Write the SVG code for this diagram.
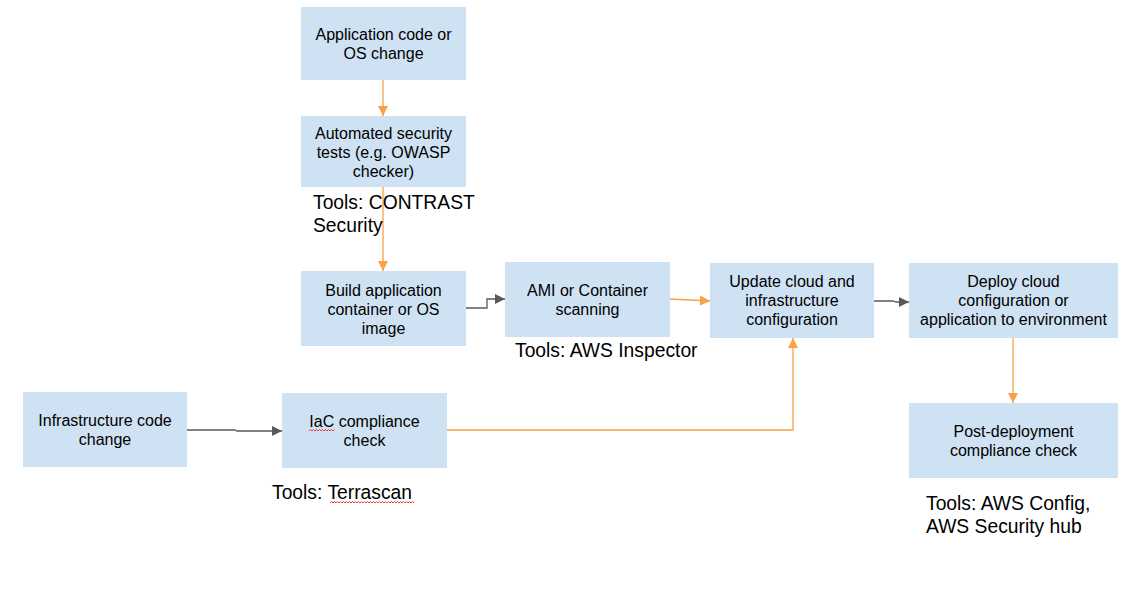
<svg xmlns="http://www.w3.org/2000/svg" width="1134" height="616" viewBox="0 0 1134 616">
<style>
.box{fill:#cfe2f3;stroke:none}
.t{font-family:"Liberation Sans",Arial,sans-serif;font-size:16px;fill:#000;text-anchor:middle}
.lbl{font-family:"Liberation Sans",Arial,sans-serif;font-size:19.3px;fill:#000}
.o{fill:none;stroke:#f6a245;stroke-width:1.3}
.g{fill:none;stroke:#595959;stroke-width:1.3}
.sq{fill:none;stroke:#e0302a;stroke-width:0.9}
</style>
<defs>
<marker id="ao" viewBox="0 0 10 10" refX="10" refY="5" markerWidth="10" markerHeight="10" markerUnits="userSpaceOnUse" orient="auto"><path d="M0,0 L10,5 L0,10 z" fill="#f6a245"/></marker>
<marker id="ag" viewBox="0 0 10 10" refX="10" refY="5" markerWidth="10" markerHeight="10" markerUnits="userSpaceOnUse" orient="auto"><path d="M0,0 L10,5 L0,10 z" fill="#595959"/></marker>
</defs>
<rect width="1134" height="616" fill="#fff"/>
<g id="connectors">
<path class="o" d="M383,80 V116" marker-end="url(#ao)"/>
<path class="o" d="M383,187 V271" marker-end="url(#ao)"/>
<path class="g" d="M466,308 H487 V299 H505" marker-end="url(#ag)"/>
<path class="o" d="M670,299 L710,301" marker-end="url(#ao)"/>
<path class="g" d="M874,301 H893 L896,302 H909" marker-end="url(#ag)"/>
<path class="o" d="M1013,338 V403" marker-end="url(#ao)"/>
<path class="g" d="M187,430 H235 L237,431 H282" marker-end="url(#ag)"/>
<path class="o" d="M447,430 H793 V338" marker-end="url(#ao)"/>
</g>
<g id="n1"><rect class="box" x="301" y="7" width="165" height="73"/>
<text class="t" x="383.5" y="40">Application code or</text><text class="t" x="383.5" y="59">OS change</text></g>
<g id="n2"><rect class="box" x="301" y="116" width="165" height="71"/>
<text class="t" x="383.5" y="139">Automated security</text><text class="t" x="383.5" y="158">tests (e.g. OWASP</text><text class="t" x="383.5" y="177">checker)</text></g>
<g id="n3"><rect class="box" x="301" y="271" width="165" height="75"/>
<text class="t" x="383.5" y="296">Build application</text><text class="t" x="383.5" y="315">container or OS</text><text class="t" x="383.5" y="334">image</text></g>
<g id="n4"><rect class="box" x="505" y="262" width="165" height="75"/>
<text class="t" x="587.5" y="296">AMI or Container</text><text class="t" x="587.5" y="315">scanning</text></g>
<g id="n5"><rect class="box" x="710" y="263" width="164" height="75"/>
<text class="t" x="792" y="287">Update cloud and</text><text class="t" x="792" y="306">infrastructure</text><text class="t" x="792" y="325">configuration</text></g>
<g id="n6"><rect class="box" x="909" y="263" width="209" height="75"/>
<text class="t" x="1013.5" y="287">Deploy cloud</text><text class="t" x="1013.5" y="306">configuration or</text><text class="t" x="1013.5" y="325">application to environment</text></g>
<g id="n7"><rect class="box" x="23" y="392" width="164" height="75"/>
<text class="t" x="105" y="426">Infrastructure code</text><text class="t" x="105" y="445">change</text></g>
<g id="n8"><rect class="box" x="282" y="393" width="165" height="75"/>
<text class="t" x="364.5" y="427">IaC compliance</text><text class="t" x="364.5" y="446">check</text>
<path class="sq" d="M309,431 l1.5,-1.5 l1.5,1.5 l1.5,-1.5 l1.5,1.5 l1.5,-1.5 l1.5,1.5 l1.5,-1.5 l1.5,1.5 l1.5,-1.5 l1.5,1.5 l1.5,-1.5 l1.5,1.5 l1.5,-1.5 l1.5,1.5 l1.5,-1.5 l1.5,1.5 l1.5,-1.5"/></g>
<g id="n9"><rect class="box" x="909" y="403" width="209" height="75"/>
<text class="t" x="1013.5" y="437">Post-deployment</text><text class="t" x="1013.5" y="456">compliance check</text></g>
<g id="labels">
<text class="lbl" x="313" y="209">Tools: CONTRAST</text><text class="lbl" x="313" y="232">Security</text>
<text class="lbl" x="515" y="357">Tools: AWS Inspector</text>
<text class="lbl" x="272" y="499">Tools: Terrascan</text>
<path class="sq" d="M330,503 l1.5,-1.5 l1.5,1.5 l1.5,-1.5 l1.5,1.5 l1.5,-1.5 l1.5,1.5 l1.5,-1.5 l1.5,1.5 l1.5,-1.5 l1.5,1.5 l1.5,-1.5 l1.5,1.5 l1.5,-1.5 l1.5,1.5 l1.5,-1.5 l1.5,1.5 l1.5,-1.5 l1.5,1.5 l1.5,-1.5 l1.5,1.5 l1.5,-1.5 l1.5,1.5 l1.5,-1.5 l1.5,1.5 l1.5,-1.5 l1.5,1.5 l1.5,-1.5 l1.5,1.5 l1.5,-1.5 l1.5,1.5 l1.5,-1.5 l1.5,1.5 l1.5,-1.5 l1.5,1.5 l1.5,-1.5 l1.5,1.5 l1.5,-1.5 l1.5,1.5 l1.5,-1.5 l1.5,1.5 l1.5,-1.5 l1.5,1.5 l1.5,-1.5 l1.5,1.5 l1.5,-1.5 l1.5,1.5 l1.5,-1.5 l1.5,1.5 l1.5,-1.5 l1.5,1.5 l1.5,-1.5 l1.5,1.5 l1.5,-1.5 l1.5,1.5 l1.5,-1.5 l1.5,1.5"/>
<text class="lbl" x="926" y="510">Tools: AWS Config,</text><text class="lbl" x="926" y="533">AWS Security hub</text>
</g>
</svg>
